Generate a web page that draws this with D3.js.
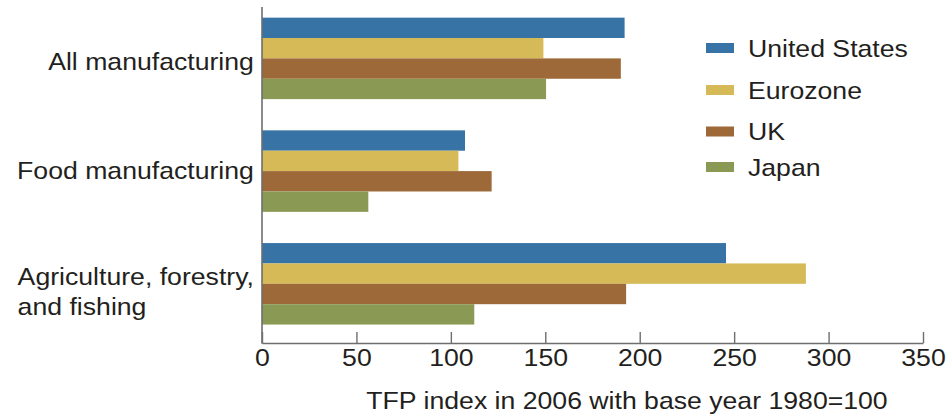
<!DOCTYPE html>
<html>
<head>
<meta charset="utf-8">
<script src="https://cdn.jsdelivr.net/npm/d3@7"></script>
<style>
  html, body { margin: 0; padding: 0; background: #fff; }
  svg { display: block; }
  text { font-family: "Liberation Sans", Arial, Helvetica, sans-serif; fill: #231f20; }
</style>
</head>
<body>
<svg id="chart" width="952" height="419"></svg>
<script>
// ---- Data ----
const categories = ["All manufacturing", "Food manufacturing", "Agriculture, forestry, and fishing"];
const categoryLines = [["All manufacturing"], ["Food manufacturing"], ["Agriculture, forestry,", "and fishing"]];
const seriesNames = ["United States", "Eurozone", "UK", "Japan"];
const unitedStates = [192, 107.5, 245.7];
const eurozone     = [149, 104, 288];
const uk           = [190, 121.6, 192.8];
const japan        = [150.4, 56.3, 112.4];
const xTicks = [0, 50, 100, 150, 200, 250, 300, 350];
const xTitle = "TFP index in 2006 with base year 1980=100";

// ---- Styles ----
const colors = ["#3873a6", "#d5ba57", "#9d6938", "#8a9a54"];
const seriesValues = [unitedStates, eurozone, uk, japan];
const SX = 1.11; // horizontal text stretch of the reference

const svg = d3.select("#chart");
const x = d3.scaleLinear().domain([0, 350]).range([262, 923]);
const y = d3.scaleBand().domain(categories).range([7.5, 334.7]).paddingInner(0.277).paddingOuter(0.09);
const y1 = d3.scaleBand().domain(seriesNames).range([0, y.bandwidth()]);

// bars
const groups = svg.append("g").selectAll("g")
  .data(categories)
  .join("g")
  .attr("transform", d => `translate(0,${y(d)})`);

groups.selectAll("rect")
  .data((c, ci) => seriesNames.map((s, si) => ({ s, si, v: seriesValues[si][ci] })))
  .join("rect")
  .attr("x", x(0))
  .attr("y", d => y1(d.s))
  .attr("width", d => x(d.v) - x(0))
  .attr("height", y1.bandwidth())
  .attr("fill", d => colors[d.si]);

// x axis
const axisY = 343;
const xAxis = svg.append("g")
  .attr("transform", `translate(0,${axisY})`)
  .call(d3.axisBottom(x).tickValues(xTicks).tickSize(-11).tickSizeOuter(0).tickFormat(d3.format("d")));
xAxis.select(".domain").attr("stroke", "#6d6e70").attr("stroke-width", 1.6);
xAxis.selectAll(".tick line").attr("stroke", "#6d6e70").attr("stroke-width", 1.4);
xAxis.selectAll(".tick text")
  .attr("y", 23)
  .attr("dy", 0)
  .attr("font-size", 24)
  .attr("transform", `scale(${SX},1)`)
  .style("font-family", "'Liberation Sans', Arial, sans-serif")
  .attr("fill", "#231f20");

// y axis line
svg.append("line")
  .attr("x1", x(0)).attr("x2", x(0))
  .attr("y1", 7).attr("y2", axisY + 0.8)
  .attr("stroke", "#6d6e70").attr("stroke-width", 1.6);

// category labels (multi-line blocks left-aligned, block right edge at 254)
const labelOffsets = [11.5, 8, 1.2];
categories.forEach((c, i) => {
  const cy = y(c) + y.bandwidth() / 2;
  const texts = categoryLines[i].map((line, li) =>
    svg.append("text")
      .attr("font-size", 24)
      .text(line));
  const maxW = d3.max(texts, t => t.node().getComputedTextLength()) * SX;
  texts.forEach((t, li) => {
    t.attr("transform", `translate(${254 - maxW},${cy + labelOffsets[i] + li * 30}) scale(${SX},1)`);
  });
});

// x title
svg.append("text")
  .attr("transform", `translate(${(367 + 887) / 2},409) scale(${SX},1)`)
  .attr("text-anchor", "middle")
  .attr("font-size", 24)
  .text(xTitle);

// legend
const legendY = [48, 90, 131.5, 167];
const legend = svg.append("g");
seriesNames.forEach((s, i) => {
  legend.append("rect")
    .attr("x", 706).attr("y", legendY[i] - 5)
    .attr("width", 28).attr("height", 10)
    .attr("fill", colors[i]);
  legend.append("text")
    .attr("transform", `translate(748,${legendY[i] + 8.7}) scale(${SX},1)`)
    .attr("font-size", 24)
    .text(s);
});
</script>
</body>
</html>
